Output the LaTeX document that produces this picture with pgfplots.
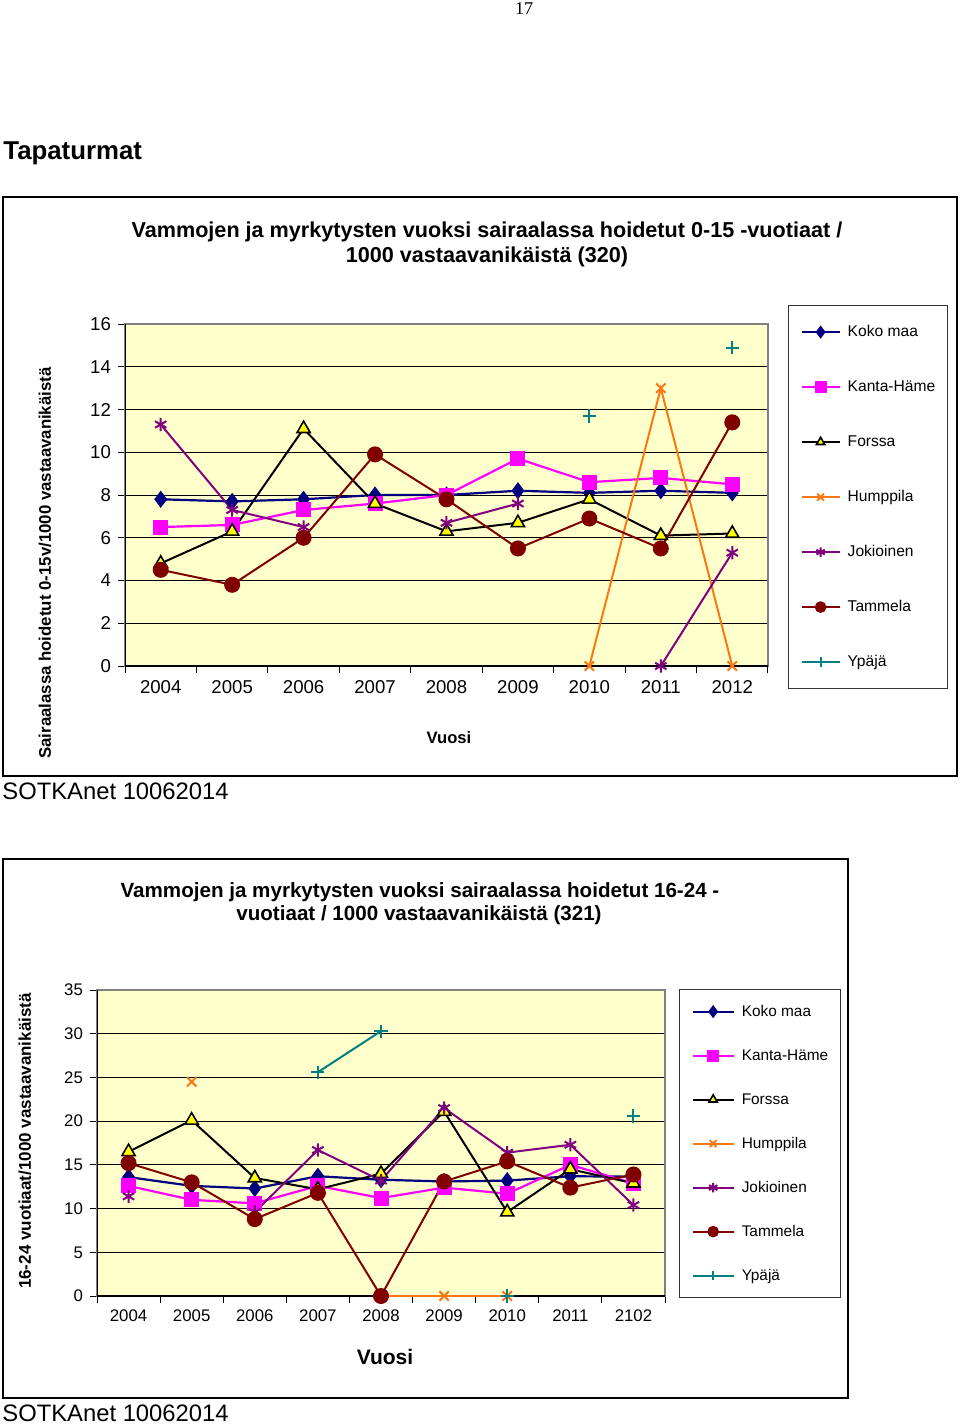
\documentclass[border=0pt]{standalone}
\usepackage{fontspec}
\setmainfont{Liberation Sans}
\newfontfamily\seriffont{Liberation Serif}
\usepackage{pgfplots}
\pgfplotsset{compat=1.18}
\definecolor{kmnavy}{RGB}{0,0,128}
\definecolor{khmag}{RGB}{255,0,255}
\definecolor{humor}{RGB}{250,120,20}
\definecolor{jokpur}{RGB}{128,0,128}
\definecolor{tamred}{RGB}{128,0,0}
\definecolor{ypteal}{RGB}{0,128,128}
\definecolor{bgyel}{RGB}{255,255,204}
\definecolor{trifill}{RGB}{255,255,0}
\pgfplotsset{
  excel/.style={
    scale only axis,
    xmin=-0.5, xmax=8.5, ymin=0,
    xtick={-0.5,0.5,...,8.5}, xticklabels={},
    extra x ticks={0,1,...,8},
    extra x tick style={major tick length=0pt, xticklabel style={yshift=-3.5pt}},
    xtick pos=bottom, ytick pos=left,
    ymajorgrids, grid style={black, line width=0.5pt},
    tick align=outside, major tick length=3.5pt,
    tick style={black, line width=0.5pt},
    axis background/.style={fill=bgyel},
    axis line style={draw=gray, line width=1pt},
    unbounded coords=jump,
    /pgf/number format/assume math mode=true,
    legend cell align=left,
  },
  kokomaa/.style={color=kmnavy, line width=1.1pt, mark=diamond*, mark size=3.4pt, mark options={fill=kmnavy}},
  kanta/.style={color=khmag, line width=1.1pt, mark=square*, mark size=3.2pt, mark options={fill=khmag}},
  forssa/.style={color=black, line width=1pt, mark=triangle*, mark size=3.8pt, mark options={fill=trifill, draw=black, line width=0.8pt}},
  humppila/.style={color=humor, line width=1pt, mark=x, mark size=3.3pt},
  jokioinen/.style={color=jokpur, line width=1pt, mark=asterisk, mark size=3.3pt},
  tammela/.style={color=tamred, line width=1pt, mark=*, mark size=3.5pt, mark options={fill=tamred}},
  ypaja/.style={color=ypteal, line width=1pt, mark=+, mark size=3.3pt},
}
\begin{document}
\begin{tikzpicture}
\begin{scope}[x=0.5pt,y=-0.5pt]
\path[use as bounding box] (0,0) rectangle (960,1425);
\node[font=\seriffont\fontsize{9}{10}\selectfont] at (524,9) {17};
\node[anchor=west, font=\bfseries\fontsize{12.9}{15}\selectfont, inner sep=0pt] at (3,153) {Tapaturmat};
% chart 1 frame
\draw[black, line width=0.6pt] (3,197) rectangle (957,776);
\node[font=\bfseries\fontsize{10.8}{12.5}\selectfont] at (487,232) {Vammojen ja myrkytysten vuoksi sairaalassa hoidetut 0-15 -vuotiaat /};
\node[font=\bfseries\fontsize{10.8}{12.5}\selectfont] at (487,257) {1000 vastaavanikäistä (320)};
\node[rotate=90, font=\bfseries\fontsize{8.4}{10}\selectfont] at (45,563) {Sairaalassa hoidetut 0-15v/1000 vastaavanikäistä};
\node[font=\bfseries\fontsize{8.3}{10}\selectfont] at (449,738) {Vuosi};
\node[anchor=west, font=\fontsize{11.9}{14}\selectfont, inner sep=0pt] at (2,791) {SOTKAnet 10062014};
% chart 2 frame
\draw[black, line width=0.6pt] (3,859) rectangle (848,1398);
\node[font=\bfseries\fontsize{10.3}{12}\selectfont] at (420,892) {Vammojen ja myrkytysten vuoksi sairaalassa hoidetut 16-24 -};
\node[font=\bfseries\fontsize{10.3}{12}\selectfont] at (419,915) {vuotiaat / 1000 vastaavanikäistä (321)};
\node[rotate=90, font=\bfseries\fontsize{8.5}{10}\selectfont] at (25,1141) {16-24 vuotiaat/1000 vastaavanikäistä};
\node[font=\bfseries\fontsize{10.5}{12}\selectfont] at (385,1357) {Vuosi};
\node[anchor=west, font=\fontsize{11.9}{14}\selectfont, inner sep=0pt] at (2,1413) {SOTKAnet 10062014};
\end{scope}

% ---------------- chart 1 ----------------
\begin{axis}[excel,
  at={(62.5pt,-333pt)}, anchor=south west,
  width=321.5pt, height=171pt,
  ymax=16, ytick={0,2,...,16},
  extra x tick labels={2004,2005,2006,2007,2008,2009,2010,2011,2012},
  ticklabel style={font=\fontsize{9.3}{11}\selectfont},
  legend style={at={(1.031,1.0556)}, anchor=north west, draw=black!80, line width=0.6pt, fill=white,
    font=\fontsize{7.8}{9}\selectfont, inner xsep=6pt, inner ysep=9.5pt, row sep=20pt, column sep=3.5pt,
    nodes={inner sep=0pt, text height=6pt, text depth=1.5pt}},
  legend image code/.code={\draw[mark repeat=2,mark phase=2,mark size=2.4pt] plot coordinates {(0pt,0pt)(9.5pt,0pt)(19pt,0pt)};},
]
\draw[black, line width=0.6pt] (rel axis cs:0,0) -- (rel axis cs:0,1);
\draw[black, line width=0.6pt] (rel axis cs:0,0) -- (rel axis cs:1,0);
\addplot[kokomaa] coordinates {(0,7.8)(1,7.7)(2,7.8)(3,8.0)(4,8.0)(5,8.2)(6,8.1)(7,8.2)(8,8.1)};
\addlegendentry{Koko maa}
\addplot[kanta] coordinates {(0,6.5)(1,6.6)(2,7.3)(3,7.6)(4,8.0)(5,9.7)(6,8.6)(7,8.8)(8,8.5)};
\addlegendentry{Kanta-Häme}
\addplot[forssa] coordinates {(0,4.8)(1,6.3)(2,11.1)(3,7.6)(4,6.3)(5,6.7)(6,7.8)(7,6.1)(8,6.2)};
\addlegendentry{Forssa}
\addplot[humppila] coordinates {(6,0)(7,13.0)(8,0)};
\addlegendentry{Humppila}
\addplot[jokioinen] coordinates {(0,11.3)(1,7.3)(2,6.5)(3,nan)(4,6.7)(5,7.6)(6,nan)(7,0)(8,5.3)};
\addlegendentry{Jokioinen}
\addplot[tammela] coordinates {(0,4.5)(1,3.8)(2,6.0)(3,9.9)(4,7.8)(5,5.5)(6,6.9)(7,5.5)(8,11.4)};
\addlegendentry{Tammela}
\addplot[ypaja] coordinates {(6,11.7)(7,nan)(8,14.9)};
\addlegendentry{Ypäjä}
\end{axis}

% ---------------- chart 2 ----------------
\begin{axis}[excel,
  at={(48.5pt,-648pt)}, anchor=south west,
  width=284pt, height=153pt,
  ymax=35, ytick={0,5,...,35},
  extra x tick labels={2004,2005,2006,2007,2008,2009,2010,2011,2102},
  ticklabel style={font=\fontsize{8.4}{10}\selectfont},
  legend style={at={(1.0246,1.0033)}, anchor=north west, draw=black!80, line width=0.6pt, fill=white,
    font=\fontsize{7.7}{9}\selectfont, inner xsep=6pt, inner ysep=7.25pt, row sep=14.5pt, column sep=3.5pt,
    nodes={inner sep=0pt, text height=6pt, text depth=1.5pt}},
  legend image code/.code={\draw[mark repeat=2,mark phase=2,mark size=2.4pt] plot coordinates {(0pt,0pt)(10.25pt,0pt)(20.5pt,0pt)};},
]
\draw[black, line width=0.6pt] (rel axis cs:0,0) -- (rel axis cs:0,1);
\draw[black, line width=0.6pt] (rel axis cs:0,0) -- (rel axis cs:1,0);
\addplot[kokomaa] coordinates {(0,13.6)(1,12.6)(2,12.3)(3,13.7)(4,13.3)(5,13.1)(6,13.2)(7,13.7)(8,13.65)};
\addlegendentry{Koko maa}
\addplot[kanta] coordinates {(0,12.6)(1,11.0)(2,10.6)(3,12.6)(4,11.2)(5,12.4)(6,11.7)(7,15.0)(8,12.9)};
\addlegendentry{Kanta-Häme}
\addplot[forssa] coordinates {(0,16.5)(1,20.1)(2,13.5)(3,12.2)(4,14.0)(5,21.1)(6,9.6)(7,14.5)(8,12.9)};
\addlegendentry{Forssa}
\addplot[humppila] coordinates {(1,24.5)(2,nan)(4,0)(5,0)(6,0)};
\addlegendentry{Humppila}
\addplot[jokioinen] coordinates {(0,11.4)(1,nan)(2,9.6)(3,16.7)(4,13.2)(5,21.5)(6,16.4)(7,17.3)(8,10.4)};
\addlegendentry{Jokioinen}
\addplot[tammela] coordinates {(0,15.2)(1,13.0)(2,8.8)(3,11.8)(4,0)(5,13.1)(6,15.4)(7,12.4)(8,13.9)};
\addlegendentry{Tammela}
\addplot[ypaja] coordinates {(3,25.6)(4,30.3)(5,nan)(6,0)(7,nan)(8,20.6)};
\addlegendentry{Ypäjä}
\end{axis}
\end{tikzpicture}
\end{document}
